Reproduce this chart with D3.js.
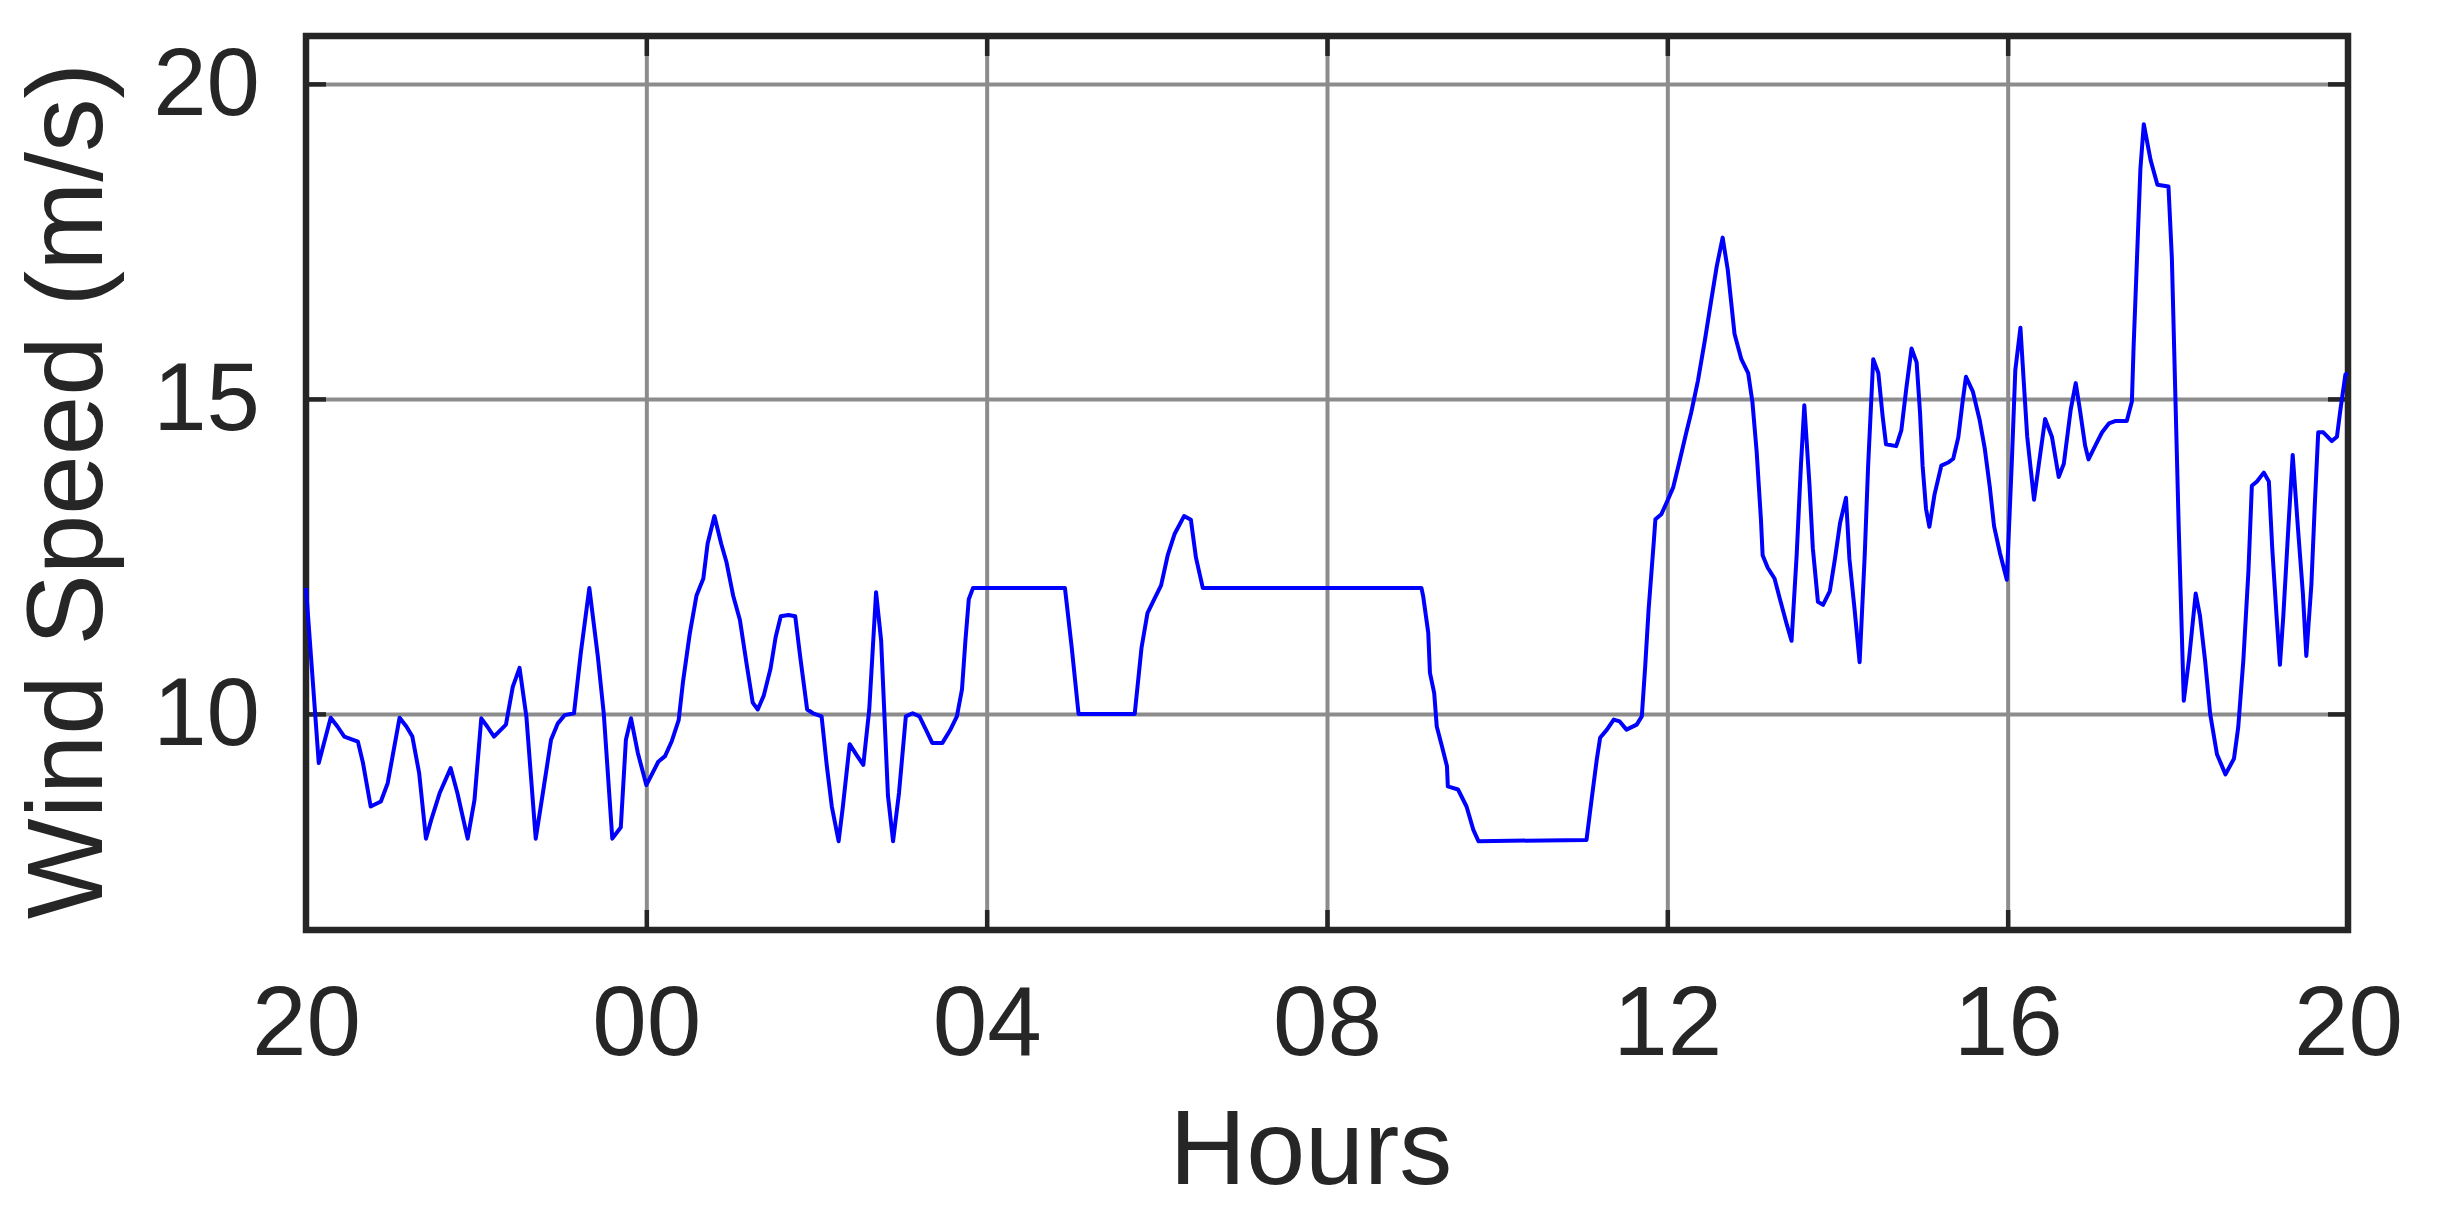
<!doctype html>
<html>
<head>
<meta charset="UTF-8">
<script src="https://d3js.org/d3.v7.min.js"></script>
<style>
body { margin: 0; background: #fff; }
text { font-family: "Liberation Sans", Arial, sans-serif; fill: #262626; }
</style>
</head>
<body>
<script>
// hours since 20:00
var hours = [0.00, 0.15, 0.29, 0.37, 0.45, 0.61, 0.67, 0.76, 0.88, 0.96,
  1.10, 1.18, 1.25, 1.33, 1.41, 1.47, 1.57, 1.70, 1.78, 1.90,
  1.98, 2.06, 2.13, 2.21, 2.35, 2.43, 2.51, 2.59, 2.70, 2.78,
  2.88, 2.96, 3.04, 3.15, 3.23, 3.33, 3.43, 3.50, 3.60, 3.70,
  3.76, 3.82, 3.90, 4.00, 4.14, 4.22, 4.30, 4.38, 4.43, 4.51,
  4.59, 4.67, 4.72, 4.80, 4.88, 4.94, 5.02, 5.10, 5.18, 5.25,
  5.31, 5.38, 5.46, 5.52, 5.58, 5.67, 5.75, 5.81, 5.89, 5.96,
  6.06, 6.12, 6.18, 6.26, 6.31, 6.39, 6.47, 6.55, 6.62, 6.70,
  6.76, 6.84, 6.90, 6.97, 7.05, 7.13, 7.21, 7.29, 7.36, 7.48,
  7.57, 7.65, 7.71, 7.75, 7.79, 7.84, 8.92, 9.00, 9.08, 9.74,
  9.82, 9.89, 9.97, 10.05, 10.13, 10.21, 10.32, 10.40, 10.46, 10.54,
  13.11, 13.13, 13.19, 13.21, 13.26, 13.29, 13.35, 13.41, 13.42, 13.54,
  13.64, 13.72, 13.78, 15.05, 15.11, 15.17, 15.21, 15.29, 15.37, 15.44,
  15.52, 15.64, 15.70, 15.74, 15.78, 15.84, 15.86, 15.93, 16.00, 16.07,
  16.14, 16.22, 16.28, 16.36, 16.44, 16.52, 16.58, 16.65, 16.71, 16.79,
  16.87, 16.95, 17.00, 17.05, 17.10, 17.12, 17.18, 17.26, 17.32, 17.40,
  17.46, 17.52, 17.57, 17.61, 17.67, 17.71, 17.77, 17.83, 17.91, 17.97,
  18.03, 18.10, 18.14, 18.20, 18.26, 18.32, 18.36, 18.42, 18.48, 18.53,
  18.57, 18.69, 18.75, 18.81, 18.87, 18.93, 18.97, 19.00, 19.04, 19.08,
  19.14, 19.22, 19.30, 19.36, 19.42, 19.47, 19.51, 19.59, 19.67, 19.73,
  19.79, 19.84, 19.91, 19.99, 20.05, 20.09, 20.15, 20.19, 20.23, 20.31,
  20.36, 20.44, 20.52, 20.60, 20.66, 20.74, 20.80, 20.85, 20.91, 20.95,
  21.03, 21.11, 21.19, 21.27, 21.40, 21.46, 21.48, 21.52, 21.56, 21.60,
  21.68, 21.76, 21.89, 21.93, 21.97, 22.01, 22.07, 22.13, 22.21, 22.26,
  22.32, 22.38, 22.46, 22.56, 22.66, 22.71, 22.77, 22.83, 22.87, 22.93,
  23.01, 23.07, 23.11, 23.16, 23.20, 23.24, 23.30, 23.35, 23.41, 23.47,
  23.51, 23.57, 23.61, 23.65, 23.71, 23.81, 23.87, 23.91, 23.97, 24.00];

// wind speed (m/s)
var speed = [12.0, 9.22, 9.94, 9.80, 9.64, 9.56, 9.22, 8.53, 8.61, 8.90,
  9.94, 9.80, 9.64, 9.06, 8.02, 8.31, 8.74, 9.14, 8.74, 8.02,
  8.63, 9.93, 9.80, 9.64, 9.83, 10.43, 10.73, 9.96, 8.02, 8.71,
  9.59, 9.85, 9.98, 10.01, 10.97, 12.0, 10.91, 10.0, 8.02, 8.20,
  9.59, 9.93, 9.38, 8.87, 9.24, 9.33, 9.57, 9.90, 10.50, 11.27,
  11.88, 12.15, 12.70, 13.14, 12.70, 12.42, 11.88, 11.49, 10.78, 10.18,
  10.07, 10.29, 10.72, 11.22, 11.55, 11.57, 11.55, 10.89, 10.07, 10.01,
  9.96, 9.19, 8.53, 7.98, 8.53, 9.52, 9.35, 9.19, 10.07, 11.93,
  11.16, 8.70, 7.98, 8.75, 9.96, 10.01, 9.96, 9.74, 9.54, 9.54,
  9.74, 9.96, 10.39, 11.16, 11.82, 12.0, 12.0, 11.05, 10.0, 10.0,
  11.05, 11.60, 11.82, 12.04, 12.53, 12.86, 13.14, 13.08, 12.48, 12.0,
  12.0, 11.87, 11.29, 10.65, 10.33, 9.80, 9.49, 9.17, 8.85, 8.80,
  8.53, 8.16, 7.98, 8.0, 8.64, 9.27, 9.62, 9.75, 9.91, 9.88,
  9.75, 9.83, 9.96, 10.76, 11.66, 12.72, 13.09, 13.17, 13.38, 13.60,
  13.99, 14.45, 14.78, 15.29, 15.92, 16.60, 17.10, 17.56, 17.05, 16.03,
  15.63, 15.41, 14.95, 14.16, 13.09, 12.52, 12.32, 12.15, 11.84, 11.44,
  11.16, 12.52, 13.94, 14.90, 13.65, 12.63, 11.78, 11.73, 11.95, 12.46,
  13.03, 13.43, 12.46, 11.67, 10.82, 12.52, 13.94, 15.63, 15.41, 14.73,
  14.28, 14.25, 14.50, 15.18, 15.80, 15.58, 14.78, 13.94, 13.26, 12.97,
  13.48, 13.94, 13.99, 14.05, 14.39, 14.95, 15.35, 15.12, 14.67, 14.22,
  13.60, 12.98, 12.55, 12.13, 14.04, 15.46, 16.13, 15.25, 14.40, 13.40,
  13.90, 14.68, 14.40, 13.76, 13.97, 14.82, 15.25, 14.82, 14.26, 14.04,
  14.26, 14.47, 14.61, 14.65, 14.65, 14.96, 15.82, 17.23, 18.65, 19.36,
  18.79, 18.40, 18.37, 17.23, 15.10, 12.98, 10.21, 10.85, 11.91, 11.56,
  10.85, 10.0, 9.36, 9.04, 9.29, 9.79, 10.85, 12.27, 13.62, 13.69,
  13.83, 13.69, 12.62, 11.56, 10.78, 11.56, 12.98, 14.11, 12.98, 11.91,
  10.92, 12.06, 13.33, 14.47, 14.47, 14.33, 14.40, 14.82, 15.39, 15.40];

var xTicks = [0, 4, 8, 12, 16, 20, 24];
var xTickLabels = ["20", "00", "04", "08", "12", "16", "20"];
var yTicks = [10, 15, 20];

var w = 2437, h = 1211;
var plotLeft = 306, plotRight = 2348, plotTop = 36, plotBottom = 930;

var svg = d3.select("body").append("svg")
    .attr("width", w)
    .attr("height", h);

svg.append("rect").attr("width", w).attr("height", h).attr("fill", "#fff");

var x = d3.scaleLinear().domain([0, 24]).range([plotLeft, plotRight]);
var y = d3.scaleLinear().domain([6.57, 20.76]).range([plotBottom, plotTop]);

// grid lines
svg.append("g")
    .attr("transform", "translate(0," + plotBottom + ")")
    .call(d3.axisBottom(x).tickValues(xTicks).tickSize(-(plotBottom - plotTop)).tickFormat(""))
    .call(function(g) {
      g.select(".domain").remove();
      g.selectAll("line").attr("stroke", "#8c8c8c").attr("stroke-width", 4);
    });
svg.append("g")
    .attr("transform", "translate(" + plotLeft + ",0)")
    .call(d3.axisLeft(y).tickValues(yTicks).tickSize(-(plotRight - plotLeft)).tickFormat(""))
    .call(function(g) {
      g.select(".domain").remove();
      g.selectAll("line").attr("stroke", "#8c8c8c").attr("stroke-width", 4);
    });

// inward ticks on all four sides, labels on left and bottom
function styleTicks(g) {
  g.select(".domain").remove();
  g.selectAll("line").attr("stroke", "#262626").attr("stroke-width", 4.5);
}

svg.append("g")
    .attr("transform", "translate(0," + plotBottom + ")")
    .call(d3.axisBottom(x).tickValues(xTicks).tickSize(-20).tickPadding(55)
      .tickFormat(function(d, i) { return xTickLabels[i]; }))
    .call(styleTicks)
    .call(function(g) {
      g.selectAll("text").attr("font-size", 98).attr("fill", "#262626")
        .attr("font-family", "Liberation Sans, Arial, sans-serif");
    });

svg.append("g")
    .attr("transform", "translate(0," + plotTop + ")")
    .call(d3.axisTop(x).tickValues(xTicks).tickSize(-20).tickFormat(""))
    .call(styleTicks);

svg.append("g")
    .attr("transform", "translate(" + plotLeft + ",0)")
    .call(d3.axisLeft(y).tickValues(yTicks).tickSize(-20).tickPadding(46))
    .call(styleTicks)
    .call(function(g) {
      g.selectAll("text").attr("font-size", 96).attr("fill", "#262626")
        .attr("font-family", "Liberation Sans, Arial, sans-serif");
    });

svg.append("g")
    .attr("transform", "translate(" + plotRight + ",0)")
    .call(d3.axisRight(y).tickValues(yTicks).tickSize(-20).tickFormat(""))
    .call(styleTicks);

// axes box
svg.append("rect")
    .attr("x", plotLeft).attr("y", plotTop)
    .attr("width", plotRight - plotLeft).attr("height", plotBottom - plotTop)
    .attr("fill", "none")
    .attr("stroke", "#262626")
    .attr("stroke-width", 6.5);

// wind speed line
var line = d3.line()
    .x(function(d, i) { return x(hours[i]); })
    .y(function(d) { return y(d); });

svg.append("path")
    .datum(speed)
    .attr("d", line)
    .attr("fill", "none")
    .attr("stroke", "#0000ff")
    .attr("stroke-width", 4)
    .attr("stroke-linejoin", "round");

// axis titles
svg.append("text")
    .attr("x", 1311).attr("y", 1184)
    .attr("text-anchor", "middle")
    .attr("font-size", 106)
    .text("Hours");

svg.append("text")
    .attr("transform", "translate(102,491) rotate(-90)")
    .attr("text-anchor", "middle")
    .attr("font-size", 107)
    .text("Wind Speed (m/s)");
</script>
</body>
</html>
